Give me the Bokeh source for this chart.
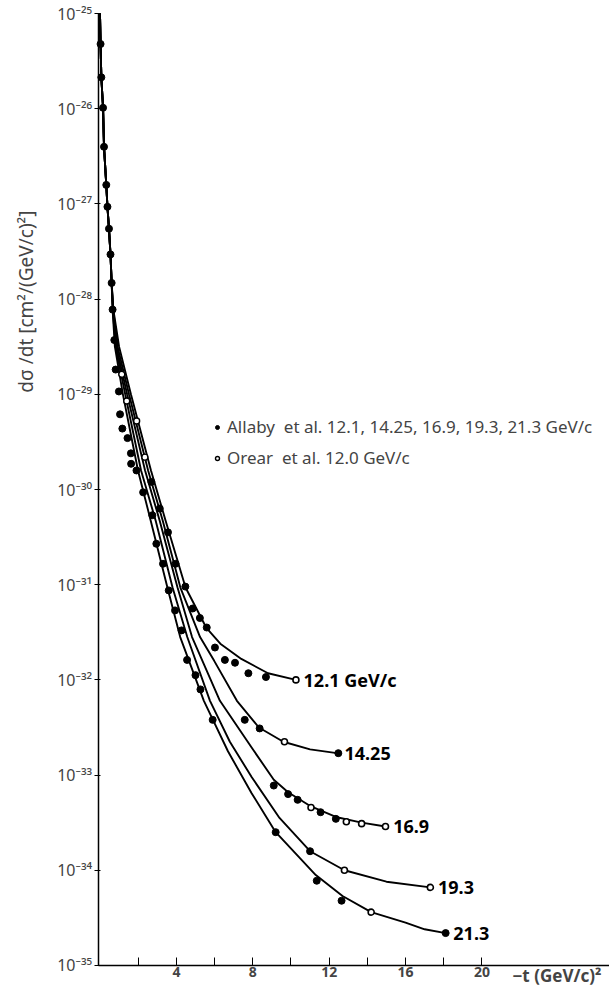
import math
from bokeh.plotting import figure
from bokeh.models import FixedTicker, Label, Legend, LegendItem
from bokeh.embed import file_html
from bokeh.resources import INLINE

# ---- data: -t in (GeV/c)^2, log10 of dsigma/dt in cm^2/(GeV/c)^2 ----
common_t = [0.0, 0.03, 0.07, 0.16, 0.21, 0.33, 0.39, 0.47, 0.55, 0.61]
common_lg = [-25.0, -25.32, -25.67, -25.99, -26.40, -26.80, -27.03, -27.26, -27.53, -27.83]

t_121 = [0.70, 1.0, 1.62, 2.67, 3.44, 4.48, 5.56, 6.3, 7.4, 8.8, 10.26]
lg_121 = [-28.11, -28.5, -29.0, -29.80, -30.33, -31.03, -31.45, -31.62, -31.78, -31.93, -32.0]

t_1425 = [0.69, 0.92, 1.52, 2.52, 3.29, 4.21, 5.24, 5.98, 7.17, 8.32, 9.6, 11.0, 12.4]
lg_1425 = [-28.11, -28.5, -29.0, -29.80, -30.33, -31.03, -31.55, -31.8, -32.22, -32.5, -32.65, -32.73, -32.77]

t_169 = [0.68, 0.86, 1.42, 2.36, 3.13, 4.06, 4.82, 6.28, 7.94, 9.1, 9.85, 11.05, 12.35, 13.7, 14.95]
lg_169 = [-28.11, -28.5, -29.0, -29.80, -30.33, -31.03, -31.55, -32.22, -32.71, -33.05, -33.18, -33.33, -33.44, -33.50, -33.54]

t_193 = [0.67, 0.82, 1.32, 2.15, 2.92, 3.80, 4.57, 5.76, 6.8, 7.94, 9.4, 11.0, 12.8, 15.0, 17.3]
lg_193 = [-28.11, -28.5, -29.0, -29.80, -30.33, -31.03, -31.55, -32.22, -32.65, -33.02, -33.45, -33.80, -34.0, -34.12, -34.18]

t_213 = [0.66, 0.78, 1.2, 1.99, 2.66, 3.53, 4.2, 5.44, 6.7, 7.94, 9.2, 11.3, 12.7, 14.2, 16.0, 17.0, 18.1]
lg_213 = [-28.11, -28.5, -29.0, -29.80, -30.33, -31.03, -31.55, -32.22, -32.75, -33.19, -33.60, -34.05, -34.27, -34.44, -34.55, -34.62, -34.66]

curve_names = ["12.1 GeV/c", "14.25", "16.9", "19.3", "21.3"]

allaby_t = [0.03, 0.07, 0.16, 0.21, 0.33, 0.39, 0.47, 0.55, 0.61, 0.66, 0.75,
            0.82, 0.99, 1.05, 1.17, 1.44, 1.62, 1.63,
            1.91, 2.69, 2.26, 3.13, 2.74, 3.56, 2.95, 3.30, 3.96, 4.47, 3.60, 4.85, 5.23,
            3.93, 4.27, 5.59, 6.02, 6.54, 7.07, 7.77, 8.69, 4.56, 5.00, 5.26, 5.90,
            7.58, 8.36, 9.10, 9.85, 10.35, 11.55, 12.35, 11.0, 9.2, 11.35, 12.65, 12.48, 18.1]
allaby_lg = [-25.32, -25.67, -25.99, -26.40, -26.80, -27.03, -27.26, -27.53, -27.83, -28.11, -28.43,
             -28.74, -28.97, -29.21, -29.36, -29.46, -29.62, -29.73,
             -29.80, -29.92, -30.03, -30.20, -30.27, -30.45, -30.57, -30.78, -30.78, -31.02, -31.06, -31.25, -31.35,
             -31.27, -31.48, -31.45, -31.66, -31.79, -31.82, -31.93, -31.97, -31.79, -31.95, -32.10, -32.42,
             -32.42, -32.51, -33.11, -33.20, -33.26, -33.39, -33.46, -33.80, -33.60, -34.11, -34.32, -32.77, -34.66]

ring_t = [9.66, 11.05, 12.9, 13.7, 14.95, 12.8, 17.3, 10.26, 14.2]
ring_lg = [-32.65, -33.34, -33.49, -33.51, -33.54, -34.0, -34.18, -32.0, -34.44]

orear_t = [1.14, 1.40, 1.92, 2.35]
orear_lg = [-28.79, -29.07, -29.28, -29.66]

x_ticks = [2, 4, 6, 8, 10, 12, 14, 16, 18, 20]
x_tick_labels = ["", "4", "", "8", "", "12", "", "16", "", "20"]
y_exponents = [-35, -34, -33, -32, -31, -30, -29, -28, -27, -26, -25]
y_tick_labels = ["10⁻³⁵", "10⁻³⁴", "10⁻³³", "10⁻³²", "10⁻³¹", "10⁻³⁰",
                 "10⁻²⁹", "10⁻²⁸", "10⁻²⁷", "10⁻²⁶", "10⁻²⁵"]

legend_labels = ["Allaby  et al. 12.1, 14.25, 16.9, 19.3, 21.3 GeV/c", "Orear  et al. 12.0 GeV/c"]
x_label = "−t (GeV/c)²"
y_label = "dσ /dt  [cm²/(GeV/c)²]"

FONT = "Noto Sans"


def to_val(lg):
    return [10.0 ** v for v in lg]


# plot frame covers the whole canvas; axes are pinned at t = 0 and 1e-35
p = figure(width=609, height=986, x_range=(-5.21, 26.68),
           y_range=(10.0 ** -35.221, 10.0 ** -24.863),
           y_axis_type="log", output_backend="svg", toolbar_location=None,
           min_border_left=0, min_border_right=0, min_border_top=0, min_border_bottom=0)
p.grid.visible = False
p.outline_line_color = None
p.background_fill_color = "white"

curves = [(t_121, lg_121), (t_1425, lg_1425), (t_169, lg_169), (t_193, lg_193), (t_213, lg_213)]
for (t, lg), name in zip(curves, curve_names):
    xs = common_t + t
    ys = to_val(common_lg + lg)
    p.line(xs, ys, line_color="black", line_width=1.9)
    p.add_layout(Label(x=t[-1] + 0.4, y=10.0 ** lg[-1], text=name, text_font=FONT,
                       text_font_size="18px", text_font_style="bold",
                       text_baseline="middle", text_align="left", text_color="black"))

r_allaby = p.scatter(allaby_t, to_val(allaby_lg), marker="circle", size=7,
                     fill_color="black", line_color="black")
p.scatter(ring_t, to_val(ring_lg), marker="circle", size=6, fill_color="white",
          line_color="black", line_width=1.6)
r_orear = p.scatter(orear_t, to_val(orear_lg), marker="circle", size=6, fill_color="white",
                    line_color="black", line_width=1.4)

legend = Legend(items=[LegendItem(label=legend_labels[0], renderers=[r_allaby]),
                       LegendItem(label=legend_labels[1], renderers=[r_orear])],
                location=(212, 517), orientation="vertical",
                background_fill_alpha=0, border_line_color=None,
                glyph_width=10, glyph_height=20, label_height=20, spacing=8,
                padding=0, margin=0, label_standoff=5,
                label_text_font=FONT, label_text_font_size="17px")
p.add_layout(legend, "center")

# axes
p.xaxis.fixed_location = 1e-35
p.xaxis.bounds = (-0.1, 26.68)
p.xaxis.ticker = FixedTicker(ticks=x_ticks, minor_ticks=[])
p.xaxis.major_label_overrides = dict(zip(x_ticks, x_tick_labels))
p.xaxis.major_tick_in = 8
p.xaxis.major_tick_out = 0
p.xaxis.major_label_standoff = 2
p.xaxis.major_label_text_font = FONT
p.xaxis.major_label_text_font_style = "bold"
p.xaxis.major_label_text_font_size = "14px"
p.xaxis.axis_line_width = 1.5

y_ticks = [10.0 ** e for e in y_exponents]
p.yaxis.fixed_location = -0.1
p.yaxis.bounds = (1e-35, 1e-25)
p.yaxis.ticker = FixedTicker(ticks=y_ticks, minor_ticks=[])
p.yaxis.major_label_overrides = dict(zip(y_ticks, y_tick_labels))
p.yaxis.major_tick_in = 2
p.yaxis.major_tick_out = 4
p.yaxis.major_label_standoff = 2
p.yaxis.major_label_text_font = FONT
p.yaxis.major_label_text_font_size = "16px"
p.yaxis.axis_line_width = 1.5

p.add_layout(Label(x=21.6, y=10.0 ** -35.105, text=x_label, text_font=FONT,
                   text_font_size="17px", text_font_style="bold",
                   text_baseline="middle", text_align="left"))
p.add_layout(Label(x=-3.85, y=10.0 ** -28.0, text=y_label, text_font=FONT,
                   text_font_size="19px", text_baseline="middle", text_align="center",
                   angle=math.pi / 2))

open("out.html", "w", encoding="utf-8").write(file_html(p, INLINE))
